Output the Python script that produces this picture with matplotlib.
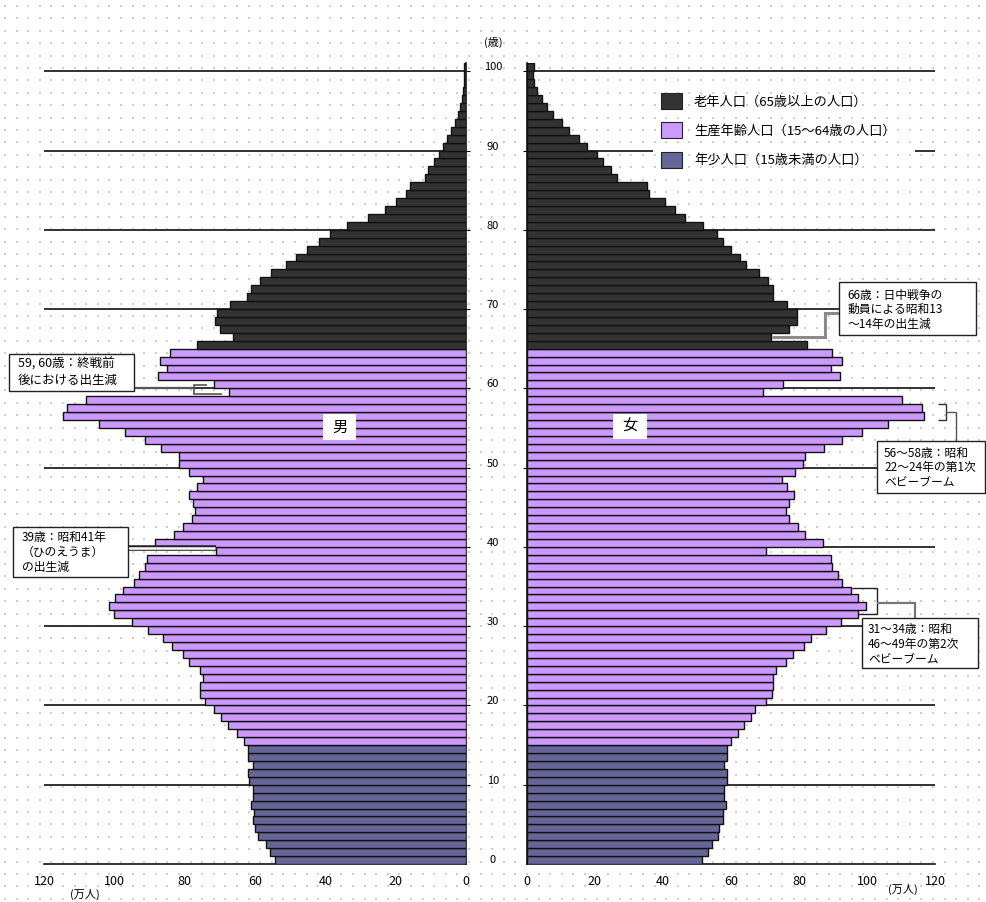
import matplotlib
matplotlib.use('Agg')
import matplotlib.pyplot as plt
import numpy as np
from matplotlib.patches import Rectangle, Patch
import matplotlib.transforms as mtransforms

plt.rcParams['font.family'] = ['Noto Sans CJK JP', 'DejaVu Sans']

# ---------------- data ----------------
ages = list(range(0, 101))
male = [54.2, 55.7, 57.0, 59.1, 59.9, 60.7, 60.2, 61.1, 60.6, 60.7,
        61.6, 62.0, 60.7, 62.0, 62.0, 63.1, 65.2, 67.7, 69.8, 71.8,
        74.3, 75.5, 75.6, 74.7, 75.6, 78.7, 80.4, 83.7, 86.2, 90.3,
        95.1, 100.1, 101.5, 99.8, 97.4, 94.4, 92.9, 91.3, 90.8, 71.1,
        88.4, 82.9, 80.6, 78.0, 77.2, 77.7, 78.8, 76.6, 74.9, 78.8,
        81.7, 81.7, 86.7, 91.2, 97.0, 104.5, 114.7, 113.6, 108.1, 67.4,
        71.8, 87.5, 85.1, 87.0, 84.2, 76.4, 66.3, 69.9, 71.4, 70.7,
        67.1, 62.3, 61.1, 58.7, 55.4, 51.2, 48.3, 45.3, 41.7, 38.8,
        33.9, 28.0, 23.1, 19.8, 17.0, 16.0, 11.6, 10.8, 9.2, 7.8,
        6.4, 5.4, 4.2, 3.0, 2.2, 1.6, 1.2, 0.9, 0.7, 0.5, 0.5]
female = [51.6, 53.4, 54.6, 56.3, 56.6, 57.6, 57.6, 58.5, 58.0, 58.0,
          58.8, 58.8, 58.0, 58.8, 58.8, 60.0, 62.2, 63.9, 65.9, 67.2,
          70.2, 72.0, 72.3, 72.5, 73.2, 76.1, 78.2, 81.6, 83.7, 88.0,
          92.4, 97.5, 99.6, 97.5, 95.3, 92.8, 91.4, 89.8, 89.4, 70.2,
          87.2, 81.8, 79.6, 77.0, 76.2, 77.0, 78.6, 76.6, 74.9, 78.8,
          81.3, 81.8, 87.4, 92.6, 98.4, 106.1, 116.7, 116.1, 110.4, 69.5,
          75.4, 92.1, 89.4, 92.6, 89.8, 82.3, 71.7, 77.2, 79.3, 79.3,
          76.4, 72.5, 72.5, 70.8, 68.3, 64.4, 62.7, 60.0, 57.6, 55.8,
          51.7, 46.5, 43.6, 40.6, 36.0, 35.5, 26.4, 24.7, 22.5, 20.6,
          17.6, 15.5, 12.4, 10.3, 7.6, 5.9, 4.4, 2.9, 2.2, 1.8, 2.0]
age_ticks = [0, 10, 20, 30, 40, 50, 60, 70, 80, 90, 100]
x_ticks = [0, 20, 40, 60, 80, 100, 120]
legend_labels = ['老年人口（65歳以上の人口）',
                 '生産年齢人口（15～64歳の人口）',
                 '年少人口（15歳未満の人口）']
note_5960 = ['59, 60歳：終戦前', '後における出生減']
note_39 = ['39歳：昭和41年', '（ひのえうま）', 'の出生減']
note_66 = ['66歳：日中戦争の', '動員による昭和13', '～14年の出生減']
note_5658 = ['56～58歳：昭和', '22～24年の第1次', 'ベビーブーム']
note_3134 = ['31～34歳：昭和', '46～49年の第2次', 'ベビーブーム']

C_OLD = '#333333'
C_WORK = '#CC99FF'
C_YOUNG = '#666699'


def group_color(a):
    if a >= 65:
        return C_OLD
    if a >= 15:
        return C_WORK
    return C_YOUNG


cols = [group_color(a) for a in ages]

W, H = 986, 902
fig = plt.figure(figsize=(W / 100, H / 100), dpi=100)
fig.patch.set_facecolor('white')


def fx(px):
    return px / W


def fy(py):
    return 1 - py / H


# background dotted pattern
bg = fig.add_axes([0, 0, 1, 1], zorder=-10)
bg.set_xlim(0, W)
bg.set_ylim(H, 0)
bg.axis('off')
xs = np.arange(5, W, 11.6)
ys = np.arange(6, H, 12.4)
X, Y = np.meshgrid(xs, ys)
bg.scatter(X.ravel(), Y.ravel(), s=0.7, c='#cfcfcf', marker='s', linewidths=0)

Y0, Y1 = 864, 63.3
axm = fig.add_axes([fx(44), fy(Y0), fx(466) - fx(44), fy(Y1) - fy(Y0)])
axf = fig.add_axes([fx(526.7), fy(Y0), fx(935) - fx(526.7), fy(Y1) - fy(Y0)])

bounds = [a - 0.5 for a in age_ticks[1:]]

for ax in (axm, axf):
    ax.set_facecolor('none')
    ax.set_ylim(-0.5, 100.5)
    ax.set_xticks(x_ticks)
    ax.set_xticklabels([str(v) for v in x_ticks])
    ax.tick_params(axis='x', length=0, pad=8, labelsize=9)
    ax.spines['top'].set_visible(False)
    for s in ax.spines.values():
        s.set_linewidth(1.2)
        s.set_color('#111111')

axm.set_xlim(120, 0)
axf.set_xlim(0, 120)
axm.spines['left'].set_visible(False)
axf.spines['right'].set_visible(False)
axm.yaxis.tick_right()
axm.set_yticks(bounds)
axm.set_yticklabels([])
axf.set_yticks(bounds)
axf.set_yticklabels([])
axm.tick_params(axis='y', length=3, width=0.8, direction='out')
axf.tick_params(axis='y', length=3, width=0.8, direction='out')

# gridlines
axm.hlines(bounds, 0, 120, colors='#222222', linewidth=1.3, zorder=1)
for b in bounds:
    if b == 89.5:
        axf.hlines(b, 0, 37, colors='#222222', linewidth=1.3, zorder=1)
        axf.hlines(b, 114, 120, colors='#222222', linewidth=1.3, zorder=1)
    else:
        axf.hlines(b, 0, 120, colors='#222222', linewidth=1.3, zorder=1)

# bars
axm.barh(ages, male, height=1.0, color=cols, edgecolor='#111111',
         linewidth=1.0, zorder=3)
axf.barh(ages, female, height=1.0, color=cols, edgecolor='#111111',
         linewidth=1.0, zorder=3)

# central age labels
trans = mtransforms.blended_transform_factory(fig.transFigure, axm.transData)
for a in age_ticks:
    fig.text(fx(493), a, str(a), transform=trans, ha='center', va='center',
             fontsize=8)
fig.text(fx(493), fy(42), '(歳)', ha='center', va='center', fontsize=8)
fig.text(fx(85), fy(894), '(万人)', ha='center', va='center', fontsize=8)
fig.text(fx(903), fy(889), '(万人)', ha='center', va='center', fontsize=8)

# legend
handles = [Patch(facecolor=c, edgecolor='#222222', linewidth=0.8)
           for c in (C_OLD, C_WORK, C_YOUNG)]
fig.legend(handles, legend_labels, loc='upper left',
           bbox_to_anchor=(fx(661), fy(93)), frameon=False, fontsize=9.5,
           handlelength=1.6, handleheight=1.5, labelspacing=1.0,
           handletextpad=0.9, borderaxespad=0, borderpad=0)

# overlay for annotations
ov = fig.add_axes([0, 0, 1, 1], zorder=10)
ov.set_xlim(0, W)
ov.set_ylim(H, 0)
ov.axis('off')


def box(x0, y0, x1, y1, lines, tx, ty0, pitch, fs):
    ov.add_patch(Rectangle((x0, y0), x1 - x0, y1 - y0, facecolor='white',
                           edgecolor='#222222', linewidth=1.0, zorder=5))
    for i, ln in enumerate(lines):
        ov.text(tx, ty0 + i * pitch, ln, ha='left', va='center',
                fontsize=fs, zorder=6)


def line(pts, color='#666666', lw=1.5, z=4):
    px = [p[0] for p in pts]
    py = [p[1] for p in pts]
    ov.plot(px, py, color=color, linewidth=lw, zorder=z,
            solid_capstyle='butt', solid_joinstyle='miter')


# 男 / 女 labels
ov.add_patch(Rectangle((323, 414), 33, 26, facecolor='white',
                       edgecolor='none', zorder=5))
ov.text(339.5, 427, '男', ha='center', va='center', fontsize=11, zorder=6)
ov.add_patch(Rectangle((613, 414), 34, 25, facecolor='white',
                       edgecolor='none', zorder=5))
ov.text(630, 426.5, '女', ha='center', va='center', fontsize=11, zorder=6)

# 59,60
line([(134, 387.5), (194, 387.5)], '#555555', 1.6)
line([(207, 385), (194, 385), (194, 394), (222, 394)], '#555555', 1.2)
box(9, 354, 134, 391, note_5960, 18, 364, 16, 9)

# 39
line([(128, 548), (216, 548)], '#222222', 4.0)
line([(128, 548), (215, 548)], 'white', 1.8)
box(13, 527, 128, 577, note_39, 22, 538, 14.5, 8.5)

# 66
line([(839, 313), (825, 313), (825, 337), (772, 337)], '#8a8a8a', 2.2)
box(839, 282, 976, 335, note_66, 847, 295, 14.5, 8.5)

# 56-58
line([(938, 404), (946, 404), (946, 420), (938, 420)], '#333333', 1.0)
line([(946, 412), (956, 412), (956, 442)], '#555555', 1.0)
box(877, 441, 985, 493, note_5658, 884, 453, 14.5, 8.5)

# 31-34
line([(852, 588), (877, 588), (877, 614), (858, 614)], '#222222', 1.0)
line([(877, 603), (915, 603), (915, 619)], '#777777', 1.6)
box(862, 618, 978, 668, note_3134, 868, 630, 14.5, 8.5)

fig.savefig('out.png', dpi=100, facecolor='white')
